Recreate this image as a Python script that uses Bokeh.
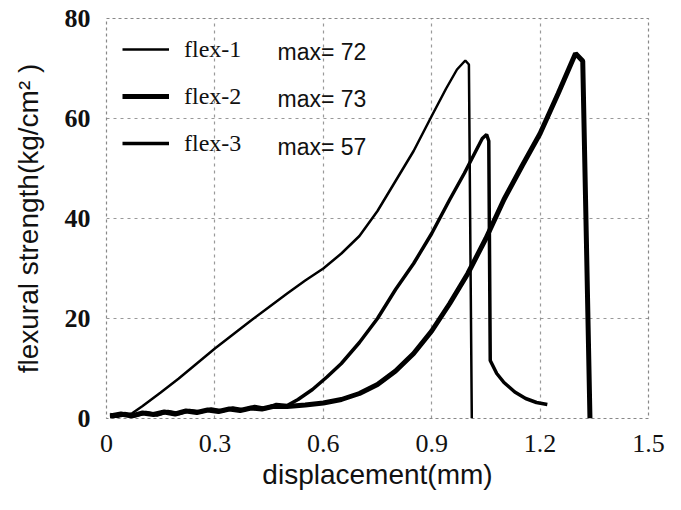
from bokeh.plotting import figure
from bokeh.models import Range1d, FixedTicker, Legend, LegendItem, Label
from bokeh.embed import file_html
from bokeh.resources import INLINE

# ---- data ----
x_ticks = [0, 0.3, 0.6, 0.9, 1.2, 1.5]
x_tick_labels = ["0", "0.3", "0.6", "0.9", "1.2", "1.5"]
y_ticks = [0, 20, 40, 60, 80]
y_tick_labels = ["0", "20", "40", "60", "80"]

series_names = ["flex-1", "flex-2", "flex-3"]
series_max = [72, 73, 57]

flex1_x = [0.01, 0.04, 0.07, 0.10, 0.15, 0.20, 0.25, 0.30, 0.35, 0.40, 0.45, 0.50,
           0.55, 0.60, 0.65, 0.70, 0.75, 0.80, 0.85, 0.90, 0.94, 0.97, 0.993, 1.003,
           1.007, 1.011]
flex1_y = [0.2, 0.5, 1.0, 2.5, 5.2, 8.0, 11.0, 14.0, 16.8, 19.6, 22.3, 25.0,
           27.6, 30.0, 33.0, 36.5, 41.5, 47.5, 53.5, 60.5, 66.0, 69.8, 71.6, 70.8,
           35.0, 0.0]

flex2_x = [0.01, 0.04, 0.07, 0.10, 0.13, 0.16, 0.19, 0.22, 0.25, 0.28, 0.31, 0.34,
           0.37, 0.40, 0.43, 0.46, 0.50, 0.55, 0.60, 0.65, 0.70, 0.75, 0.80, 0.85,
           0.90, 0.95, 1.00, 1.05, 1.10, 1.15, 1.20, 1.25, 1.28, 1.298, 1.318, 1.328,
           1.338]
flex2_y = [0.5, 0.9, 0.5, 1.1, 0.8, 1.3, 0.9, 1.5, 1.2, 1.7, 1.4, 1.9,
           1.6, 2.1, 1.9, 2.4, 2.4, 2.7, 3.1, 3.8, 5.0, 6.8, 9.5, 13.0,
           17.5, 23.0, 29.0, 36.0, 43.8, 50.5, 57.0, 65.0, 70.0, 73.0, 71.5, 36.0,
           0.0]

flex3_x = [0.01, 0.03, 0.05, 0.08, 0.11, 0.14, 0.17, 0.20, 0.23, 0.26, 0.29, 0.32,
           0.35, 0.38, 0.41, 0.44, 0.47, 0.50, 0.53, 0.57, 0.61, 0.65, 0.70, 0.75,
           0.80, 0.85, 0.90, 0.95, 0.99, 1.02, 1.04, 1.052, 1.058, 1.062, 1.08, 1.10,
           1.13, 1.16, 1.19, 1.22]
flex3_y = [0.8, 0.4, 1.0, 0.6, 1.2, 0.7, 1.4, 1.0, 1.6, 1.3, 1.9, 1.5,
           2.1, 1.7, 2.4, 2.0, 2.8, 2.6, 3.8, 5.8, 8.3, 11.0, 15.2, 20.0,
           25.8, 31.0, 37.0, 43.8, 49.0, 53.2, 56.0, 56.8, 55.5, 11.6, 9.0, 7.2,
           5.3, 4.0, 3.2, 2.8]

# ---- figure ----
p = figure(width=665, height=494, x_range=Range1d(0, 1.5), y_range=Range1d(0, 80),
           output_backend="svg", toolbar_location=None,
           min_border_left=106, min_border_right=17, min_border_top=18, min_border_bottom=76)
p.background_fill_color = "white"
p.border_fill_color = "white"
p.outline_line_color = "#888888"
p.outline_line_dash = "3 3"
p.outline_line_width = 1.2

for ax in (p.xaxis, p.yaxis):
    ax.axis_line_color = None
    ax.major_tick_line_color = None
    ax.minor_tick_line_color = None
    ax.major_label_text_color = "#111111"
    ax.axis_label_text_color = "#111111"
    ax.axis_label_text_font = "Liberation Sans"
    ax.axis_label_text_font_style = "normal"
    ax.axis_label_text_font_size = "28px"

p.xaxis.ticker = FixedTicker(ticks=x_ticks)
p.yaxis.ticker = FixedTicker(ticks=y_ticks)
p.xaxis.major_label_overrides = dict(zip(x_ticks, x_tick_labels))
p.yaxis.major_label_overrides = dict(zip(y_ticks, y_tick_labels))
p.xaxis.major_label_text_font = "Liberation Serif"
p.xaxis.major_label_text_font_size = "26px"
p.xaxis.major_label_standoff = 10
p.yaxis.major_label_text_font = "Liberation Serif"
p.yaxis.major_label_text_font_style = "bold"
p.yaxis.major_label_text_font_size = "26px"
p.yaxis.major_label_standoff = 10

p.xaxis.axis_label = "displacement(mm)"
p.xaxis.axis_label_standoff = 4
p.yaxis.axis_label = "flexural strength(kg/cm\u00b2 )"
p.yaxis.axis_label_standoff = 18

for g in (p.xgrid, p.ygrid):
    g.grid_line_color = "#808080"
    g.grid_line_dash = "3 4"
    g.grid_line_width = 1.2
    g.grid_line_alpha = 0.8

r1 = p.line(flex1_x, flex1_y, line_color="black", line_width=2.5)
r2 = p.line(flex2_x, flex2_y, line_color="black", line_width=5)
r3 = p.line(flex3_x, flex3_y, line_color="black", line_width=3.5)

legend = Legend(items=[LegendItem(label=n, renderers=[r]) for n, r in zip(series_names, [r1, r2, r3])],
                location="top_left", margin=16, padding=0, spacing=17,
                glyph_width=47, glyph_height=30, label_height=30, label_standoff=15,
                label_text_font="Liberation Serif", label_text_font_size="24px",
                label_text_color="#111111",
                border_line_color=None, background_fill_alpha=0)
p.add_layout(legend)

for i, m in enumerate(series_max):
    p.add_layout(Label(x=171, y=367 - 47.5 * i, x_units="screen", y_units="screen",
                       text="max= %d" % m, text_font="Liberation Sans", text_font_size="23px",
                       text_baseline="alphabetic", text_color="#111111"))

open("out.html", "w").write(file_html(p, INLINE))
